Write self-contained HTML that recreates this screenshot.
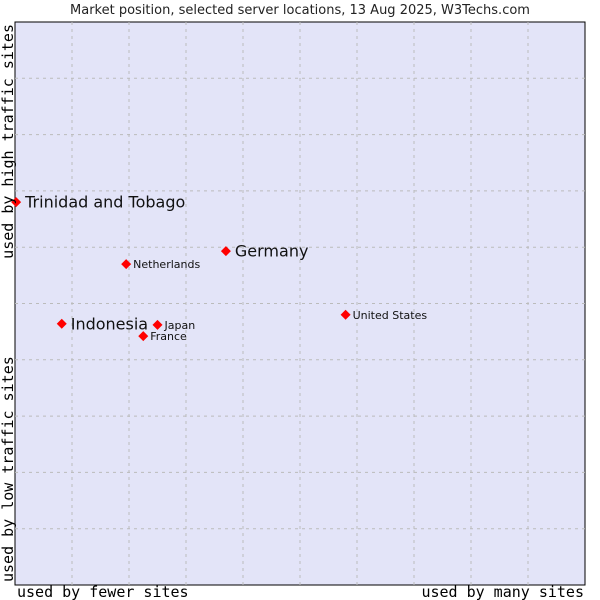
<!DOCTYPE html>
<html><head><meta charset="utf-8"><style>
body{margin:0;background:#fff;width:600px;height:600px;overflow:hidden}
svg{display:block;font-family:"DejaVu Sans","Liberation Sans",sans-serif}
</style></head><body>
<svg width="600" height="600">
<text x="300" y="14" font-size="13" text-anchor="middle" fill="#222">Market position, selected server locations, 13 Aug 2025, W3Techs.com</text>
<rect x="15" y="22" width="570" height="563" fill="#e3e4f8" stroke="#000" stroke-width="1"/>
<g id="grid"></g>
<g id="pts"></g>
<text x="17" y="597" font-size="15" font-family="DejaVu Sans Mono,Liberation Mono,monospace" fill="#000">used by fewer sites</text>
<text x="584" y="597" font-size="15" text-anchor="end" font-family="DejaVu Sans Mono,Liberation Mono,monospace" fill="#000">used by many sites</text>
<text transform="translate(13,582) rotate(-90)" font-size="15" font-family="DejaVu Sans Mono,Liberation Mono,monospace" fill="#000">used by low traffic sites</text>
<text transform="translate(13,24) rotate(-90)" font-size="15" text-anchor="end" font-family="DejaVu Sans Mono,Liberation Mono,monospace" fill="#000">used by high traffic sites</text>
</svg>
<script>
const names=["Trinidad and Tobago","Germany","Netherlands","United States","Indonesia","Japan","France"];
const xVals=[0.02,3.7,1.95,5.8,0.82,2.5,2.25];
const yVals=[6.8,5.93,5.7,4.8,4.64,4.62,4.42];
const big=[true,true,false,false,true,false,false];
const X0=15,X1=585,Y0=585,Y1=22;
const xs=v=>X0+v*(X1-X0)/10, ys=v=>Y0-v*(Y0-Y1)/10;
const NS="http://www.w3.org/2000/svg";
const g=document.getElementById('grid');
for(let i=1;i<10;i++){
 let l=document.createElementNS(NS,'line');
 l.setAttribute('x1',xs(i));l.setAttribute('x2',xs(i));l.setAttribute('y1',Y1);l.setAttribute('y2',Y0);
 l.setAttribute('stroke','#bbb');l.setAttribute('stroke-dasharray','3,4');
 
 
 g.appendChild(l);
 let m=document.createElementNS(NS,'line');
 m.setAttribute('y1',ys(i));m.setAttribute('y2',ys(i));m.setAttribute('x1',X0);m.setAttribute('x2',X1);
 m.setAttribute('stroke','#bbb');m.setAttribute('stroke-dasharray','3,4');
 
 
 g.appendChild(m);
}
const p=document.getElementById('pts');
names.forEach((n,i)=>{
 const x=xs(xVals[i]),y=ys(yVals[i]);
 let d=document.createElementNS(NS,'polygon');
 d.setAttribute('points',`${x-5},${y} ${x},${y-5} ${x+5},${y} ${x},${y+5}`);
 d.setAttribute('fill','#f00');
 
 
 p.appendChild(d);
 let t=document.createElementNS(NS,'text');
 t.setAttribute('x',x+(big[i]?9:7));t.setAttribute('y',y+(big[i]?5.5:4));
 t.setAttribute('font-size',big[i]?16:11);t.setAttribute('fill','#111');
 t.textContent=n;
 
 
 p.appendChild(t);
});
</script>
</body></html>
